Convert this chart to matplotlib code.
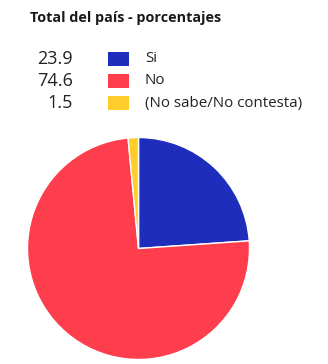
import matplotlib
matplotlib.use("Agg")
import matplotlib.pyplot as plt
from matplotlib.patches import Rectangle

plt.rcParams['font.family'] = ['Open Sans', 'DejaVu Sans']

# datos
etiquetas = ['Si', 'No', '(No sabe/No contesta)']
valores = [23.9, 74.6, 1.5]
colores = ['#1f2dbd', '#fe3e4d', '#ffcd2b']
titulo = 'Total del país - porcentajes'

W, H = 328, 364
fig = plt.figure(figsize=(W / 100, H / 100), dpi=100)

# titulo
fig.text(30 / W, 1 - 18 / H, titulo, fontsize=10.4, fontweight='bold',
         color='#1a1a1a', ha='left', va='center')

# leyenda con valores
filas_y = [59, 81, 103]
for v, lab, col, yy in zip(valores, etiquetas, colores, filas_y):
    fy = 1 - yy / H
    fig.text(73 / W, fy, f'{v:.1f}', fontsize=13, color='#222222',
             ha='right', va='center')
    fig.patches.append(Rectangle((108 / W, fy - 7 / H), 21 / W, 14 / H,
                                 transform=fig.transFigure, facecolor=col,
                                 edgecolor='none'))
    fig.text(145 / W, fy, lab, fontsize=10.9, color='#222222',
             ha='left', va='center')

# torta
cx, cy, r = 138.5, 248.5, 111
ax = fig.add_axes([(cx - r) / W, 1 - (cy + r) / H, 2 * r / W, 2 * r / H])
ax.pie(valores, colors=colores, startangle=90, counterclock=False,
       wedgeprops=dict(edgecolor='white', linewidth=1))
ax.set_xlim(-1, 1)
ax.set_ylim(-1, 1)
ax.set_aspect('auto')

fig.savefig('out.png', dpi=100)
